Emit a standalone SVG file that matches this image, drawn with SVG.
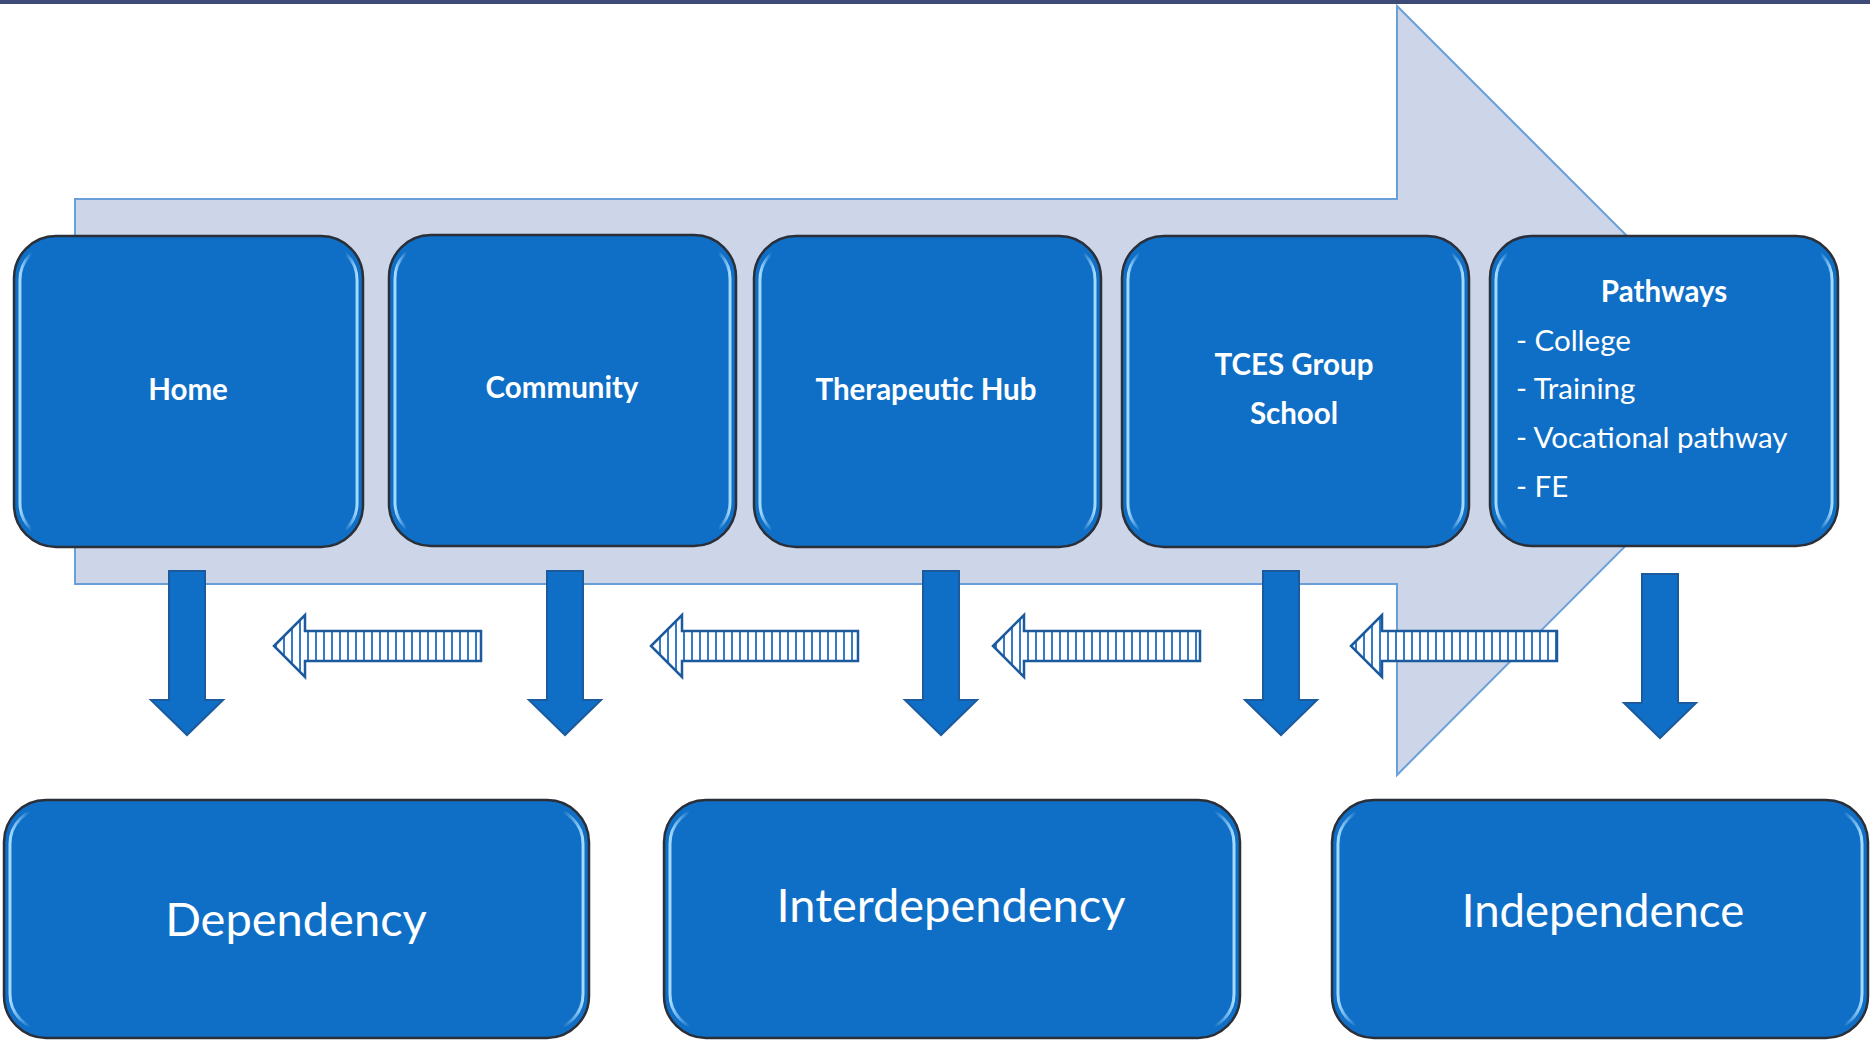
<svg xmlns="http://www.w3.org/2000/svg" width="1870" height="1040" viewBox="0 0 1870 1040">
<defs>
<style>
.box{fill:#0f6fc6;stroke:#2a2f38;stroke-width:2.5}
.gloss{fill:none;stroke:url(#hl);stroke-width:3}
.t{fill:#ffffff;font-family:Lato,"Open Sans","Liberation Sans",sans-serif}
.tb{font-weight:bold;font-size:29.5px;text-anchor:middle}
.tl{font-size:29.5px}
.big{font-size:47px;text-anchor:middle}
.down{fill:#0f6fc6;stroke:#1b5a9c;stroke-width:2}
.hatch{fill:url(#stripes);stroke:#1b5a9c;stroke-width:2.5}
</style>
<linearGradient id="hl" x1="0" y1="0" x2="1" y2="0">
<stop offset="0" stop-color="#a8dcff" stop-opacity="1"/>
<stop offset="0.035" stop-color="#a8dcff" stop-opacity="0"/>
<stop offset="0.965" stop-color="#a8dcff" stop-opacity="0"/>
<stop offset="1" stop-color="#a8dcff" stop-opacity="1"/>
</linearGradient>
<pattern id="stripes" patternUnits="userSpaceOnUse" width="8" height="8">
<rect width="8" height="8" fill="#ffffff"/>
<line x1="4" y1="0" x2="4" y2="8" stroke="#1f6cc0" stroke-width="1.8"/>
</pattern>
</defs>
<rect x="0" y="0" width="1870" height="4" fill="#3e4a78"/>
<g id="big-arrow">
<polygon points="75,199 1397,199 1397,6 1781,390 1397,775 1397,584 75,584" fill="#cdd5e8" stroke="#6aa0da" stroke-width="2"/>
</g>
<g id="node-home">
<rect class="box" x="14" y="236" width="349" height="311" rx="42"/>
<rect class="gloss" x="20" y="244" width="337" height="295" rx="36"/>
<text class="t tb" x="188" y="400">Home</text>
</g>
<g id="node-community">
<rect class="box" x="389" y="235" width="347" height="311" rx="42"/>
<rect class="gloss" x="395" y="243" width="335" height="295" rx="36"/>
<text class="t tb" x="562" y="398">Community</text>
</g>
<g id="node-hub">
<rect class="box" x="754" y="236" width="347" height="311" rx="42"/>
<rect class="gloss" x="760" y="244" width="335" height="295" rx="36"/>
<text class="t tb" x="926" y="400">Therapeutic Hub</text>
</g>
<g id="node-tces">
<rect class="box" x="1122" y="236" width="347" height="311" rx="42"/>
<rect class="gloss" x="1128" y="244" width="335" height="295" rx="36"/>
<text class="t tb" x="1294" y="375">TCES Group</text>
<text class="t tb" x="1294" y="424">School</text>
</g>
<g id="node-pathways">
<rect class="box" x="1490" y="236" width="348" height="310" rx="42"/>
<rect class="gloss" x="1496" y="244" width="336" height="294" rx="36"/>
<text class="t tb" x="1664" y="302">Pathways</text>
<text class="t tl" x="1516" y="351">- College</text>
<text class="t tl" x="1516" y="399">- Training</text>
<text class="t tl" x="1516" y="448">- Vocational pathway</text>
<text class="t tl" x="1516" y="497">- FE</text>
</g>
<g id="node-dependency">
<rect class="box" x="4" y="800" width="585" height="238" rx="42"/>
<rect class="gloss" x="10" y="808" width="573" height="222" rx="36"/>
<text class="t big" x="296" y="936">Dependency</text>
</g>
<g id="node-interdependency">
<rect class="box" x="664" y="800" width="576" height="238" rx="42"/>
<rect class="gloss" x="670" y="808" width="564" height="222" rx="36"/>
<text class="t big" x="951" y="922">Interdependency</text>
</g>
<g id="node-independence">
<rect class="box" x="1332" y="800" width="536" height="238" rx="42"/>
<rect class="gloss" x="1338" y="808" width="524" height="222" rx="36"/>
<text class="t big" x="1603" y="927" style="font-size:45.5px">Independence</text>
</g>
<g id="connectors">
<path class="down" d="M169,571 H205 V700 H223 L187,735 L151,700 H169 Z"/>
<path class="down" d="M547,571 H583 V700 H601 L565,735 L529,700 H547 Z"/>
<path class="down" d="M923,571 H959 V700 H977 L941,735 L905,700 H923 Z"/>
<path class="down" d="M1263,571 H1299 V700 H1317 L1281,735 L1245,700 H1263 Z"/>
<path class="down" d="M1642,574 H1678 V703 H1696 L1660,738 L1624,703 H1642 Z"/>
<path class="hatch" d="M274,646 L305,615 V631 H481 V661 H305 V677 Z"/>
<path class="hatch" d="M651,646 L682,615 V631 H858 V661 H682 V677 Z"/>
<path class="hatch" d="M993,646 L1024,615 V631 H1200 V661 H1024 V677 Z"/>
<path class="hatch" d="M1351,646 L1382,615 V631 H1557 V661 H1382 V677 Z"/>
</g>
</svg>
